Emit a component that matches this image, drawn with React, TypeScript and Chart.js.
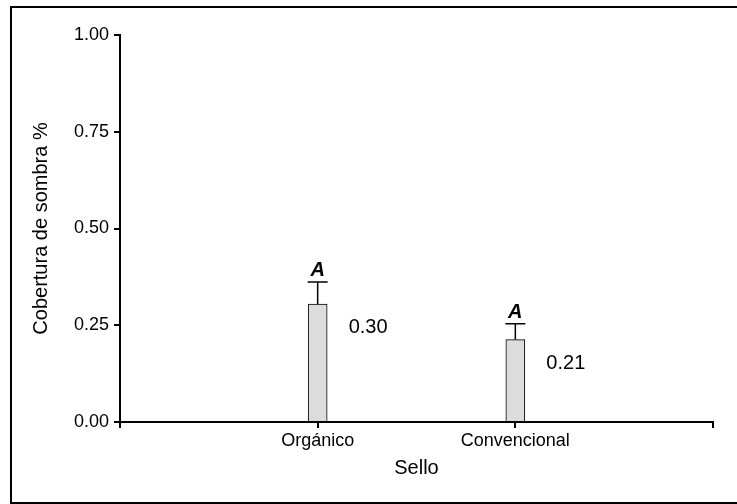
import React, { useEffect, useRef } from 'react';
import { Chart, registerables } from 'chart.js';

Chart.register(...registerables);

const categories = ['Orgánico', 'Convencional'];
const means = [0.305, 0.213];
const errors = [0.057, 0.041];
const letters = ['A', 'A'];
const valueLabels = ['0.30', '0.21'];
const yMin = 0;
const yMax = 1;
const yStep = 0.25;
const xTitle = 'Sello';
const yTitle = 'Cobertura de sombra %';

const FONT = "'Liberation Sans', Arial, sans-serif";

const annotPlugin = {
  id: 'annot',
  beforeDraw(chart: any) {
    const ctx = chart.ctx;
    ctx.save();
    ctx.fillStyle = '#fff';
    ctx.fillRect(0, 0, chart.width, chart.height);
    ctx.restore();
  },
  afterDatasetsDraw(chart: any) {
    const ctx = chart.ctx;
    const xs = chart.scales.x;
    const ys = chart.scales.y;
    ctx.save();
    ctx.strokeStyle = '#000';
    ctx.fillStyle = '#000';
    means.forEach((m, i) => {
      const x = xs.getPixelForValue(i + 1);
      const yBar = ys.getPixelForValue(m);
      const yTop = ys.getPixelForValue(m + errors[i]);
      ctx.lineWidth = 1.5;
      ctx.beginPath();
      ctx.moveTo(x, yBar);
      ctx.lineTo(x, yTop);
      ctx.moveTo(x - 10, yTop);
      ctx.lineTo(x + 10, yTop);
      ctx.stroke();
      ctx.font = `italic bold 20px ${FONT}`;
      ctx.textAlign = 'center';
      ctx.textBaseline = 'alphabetic';
      ctx.fillText(letters[i], x, yTop - 6);
      ctx.font = `20px ${FONT}`;
      ctx.textAlign = 'left';
      ctx.textBaseline = 'middle';
      ctx.fillText(valueLabels[i], x + 31, yBar + 24);
    });
    ctx.restore();
  },
  afterDraw(chart: any) {
    const ctx = chart.ctx;
    ctx.save();
    ctx.strokeStyle = '#000';
    ctx.lineWidth = 2;
    ctx.beginPath();
    ctx.moveTo(chart.width, 7);
    ctx.lineTo(11, 7);
    ctx.lineTo(11, 503);
    ctx.lineTo(chart.width, 503);
    ctx.stroke();
    ctx.restore();
  },
};

export default function App() {
  const ref = useRef<HTMLCanvasElement>(null);
  useEffect(() => {
    if (!ref.current) return;
    const chart = new Chart(ref.current, {
      type: 'bar',
      data: {
        datasets: [
          {
            data: means.map((m, i) => ({ x: i + 1, y: m })),
            backgroundColor: '#dcdcdc',
            borderColor: '#000',
            borderWidth: 1,
            barThickness: 19,
          } as any,
        ],
      },
      options: {
        responsive: false,
        animation: false,
        devicePixelRatio: 1,
        layout: { padding: { top: 35, right: 24, left: 0, bottom: 0 } },
        plugins: { legend: { display: false }, tooltip: { enabled: false } },
        scales: {
          x: {
            type: 'linear',
            min: 0,
            max: categories.length + 1,
            offset: false,
            afterFit: (s: any) => {
              s.height = 82;
            },
            ticks: {
              stepSize: 1,
              autoSkip: false,
              maxRotation: 0,
              color: '#000',
              padding: 2,
              font: { family: FONT, size: 18 },
              callback: (v: any) => categories[Number(v) - 1] ?? '',
            },
            grid: {
              offset: false,
              drawOnChartArea: false,
              drawTicks: true,
              tickLength: 6,
              color: '#000',
              lineWidth: 2,
            },
            border: { display: true, color: '#000', width: 2 },
            title: {
              display: true,
              text: xTitle,
              color: '#000',
              font: { family: FONT, size: 20 },
              padding: 24,
            },
          },
          y: {
            type: 'linear',
            min: yMin,
            max: yMax,
            afterFit: (s: any) => {
              s.width = 120;
            },
            ticks: {
              stepSize: yStep,
              color: '#000',
              padding: 5,
              font: { family: FONT, size: 18 },
              callback: (v: any) => Number(v).toFixed(2),
            },
            grid: { drawOnChartArea: false, drawTicks: true, tickLength: 6, color: '#000', lineWidth: 2 },
            border: { display: true, color: '#000', width: 2 },
            title: {
              display: true,
              text: yTitle,
              color: '#000',
              font: { family: FONT, size: 20 },
              padding: 29,
            },
          },
        },
      } as any,
      plugins: [annotPlugin],
    });
    return () => chart.destroy();
  }, []);
  return (
    <canvas
      ref={ref}
      width={737}
      height={504}
      style={{ position: 'absolute', left: 0, top: 0, width: 737, height: 504 }}
    />
  );
}
